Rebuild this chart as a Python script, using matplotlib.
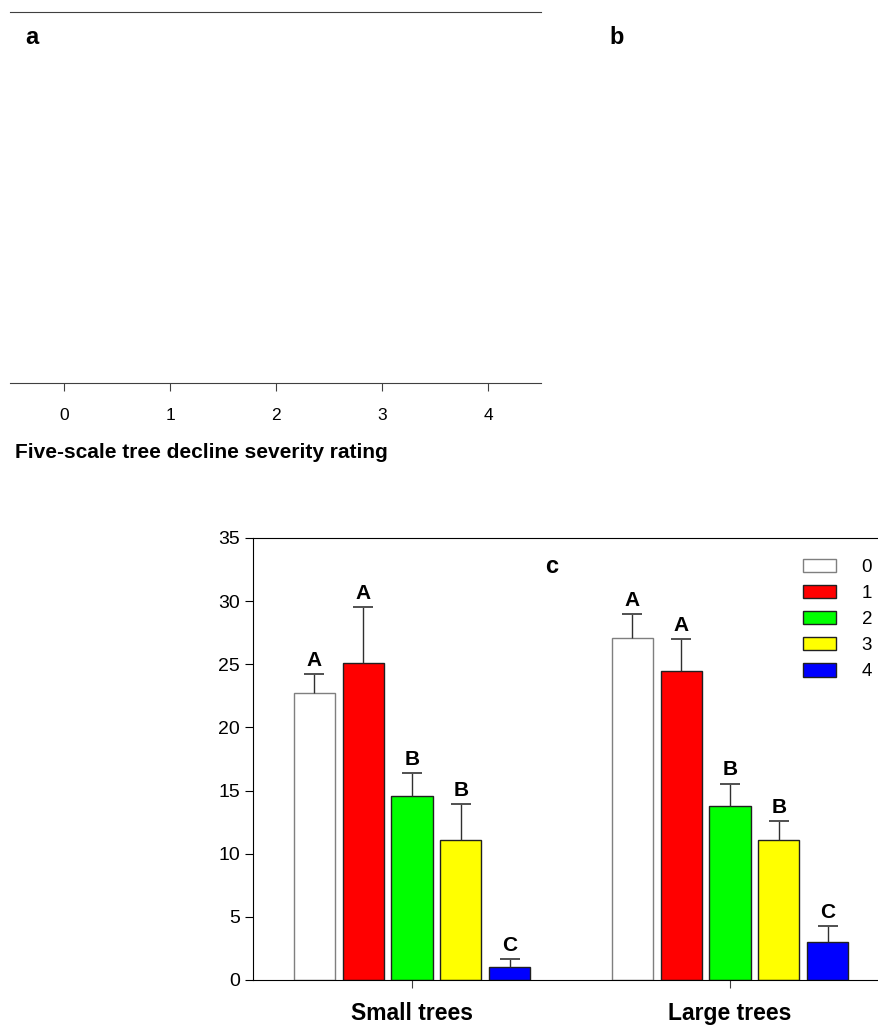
import numpy as np
import matplotlib
matplotlib.use("Agg")
import matplotlib.pyplot as plt
from matplotlib.patches import Patch

plt.rcParams['font.family'] = ['Liberation Sans', 'DejaVu Sans']

# data for panel c
groups = ["Small trees", "Large trees"]
ratings = ["0", "1", "2", "3", "4"]
small_means = [22.75, 25.1, 14.6, 11.1, 1.0]
small_err = [1.5, 4.4, 1.8, 2.8, 0.65]
large_means = [27.1, 24.5, 13.75, 11.05, 3.0]
large_err = [1.9, 2.5, 1.8, 1.55, 1.25]
small_letters = ["A", "A", "B", "B", "C"]
large_letters = ["A", "A", "B", "B", "C"]
bar_colors = ["white", "#ff0000", "#00ff00", "#ffff00", "#0000ff"]
edge_colors = ["#7f7f7f", "#202020", "#202020", "#202020", "#202020"]

# panel a axis ticks
a_ticks = [0, 1, 2, 3, 4]

W, H = 879, 1028
fig = plt.figure(figsize=(W / 100, H / 100), dpi=100)

# ---- panel a (empty frame) ----
ax_a = fig.add_axes([10 / W, 1 - 383 / H, (541 - 10) / W, (383 - 12) / H])
ax_a.set_xlim(-0.51, 4.5)
ax_a.set_ylim(0, 1)
ax_a.spines['left'].set_visible(False)
ax_a.spines['right'].set_visible(False)
for s in ['top', 'bottom']:
    ax_a.spines[s].set_color('#404040')
ax_a.set_yticks([])
ax_a.set_xticks(a_ticks)
ax_a.set_xticklabels([str(t) for t in a_ticks], fontsize=12.5)
ax_a.tick_params(axis='x', direction='out', length=6, color='#404040', pad=12)
fig.text(15 / W, 1 - 452 / H, "Five-scale tree decline severity rating",
         fontsize=15, fontweight='bold', va='center')
fig.text(25 / W, 1 - 37 / H, "a", fontsize=17, fontweight='bold', va='center')
fig.text(609 / W, 1 - 37 / H, "b", fontsize=17, fontweight='bold', va='center')

# ---- panel c (bars) ----
ax_c = fig.add_axes([253 / W, 1 - 980 / H, (889 - 253) / W, (980 - 538) / H])
x = np.arange(len(groups))
step = 0.154
width = 0.129
for i, r in enumerate(ratings):
    means = np.array([small_means[i], large_means[i]])
    errs = np.array([small_err[i], large_err[i]])
    pos = x + (i - 2) * step
    ax_c.bar(pos, means, width, color=bar_colors[i], edgecolor=edge_colors[i],
             linewidth=1.0, label=r, zorder=2)
    # upper error bar only, cap on top
    ax_c.vlines(pos, means, means + errs, color='#303030', linewidth=1.0, zorder=3)
    ax_c.plot(pos, means + errs, ls='none', marker='_', markersize=14,
              markeredgewidth=1.4, color='#505050', zorder=3)
    for j, lets in enumerate([small_letters, large_letters]):
        ax_c.annotate(lets[i], (pos[j], means[j] + errs[j]), xytext=(0, 3),
                      textcoords='offset points', ha='center', va='bottom',
                      fontsize=15, fontweight='bold')

ax_c.set_xlim(-0.5, 1.5)
ax_c.set_ylim(0, 35)
ax_c.set_yticks(np.arange(0, 36, 5))
ax_c.tick_params(axis='y', labelsize=14, length=6, direction='out')
ax_c.set_xticks(x)
ax_c.set_xticklabels(groups, fontsize=16.5, fontweight='bold')
ax_c.tick_params(axis='x', length=6, direction='out', pad=10, color='#404040')
ax_c.spines['right'].set_visible(False)
ax_c.text(0.47, 0.935, "c", transform=ax_c.transAxes, fontsize=17,
          fontweight='bold', ha='center', va='center')

handles = [Patch(facecolor=c, edgecolor=e, linewidth=1.0)
           for c, e in zip(bar_colors, edge_colors)]
ax_c.legend(handles, ratings, loc='upper right', bbox_to_anchor=(889 / W, 1 - 542 / H),
            bbox_transform=fig.transFigure, frameon=False, fontsize=13.5,
            handlelength=1.76, handleheight=0.7, handletextpad=1.35, labelspacing=0.48)

fig.savefig("out.png", dpi=100)
